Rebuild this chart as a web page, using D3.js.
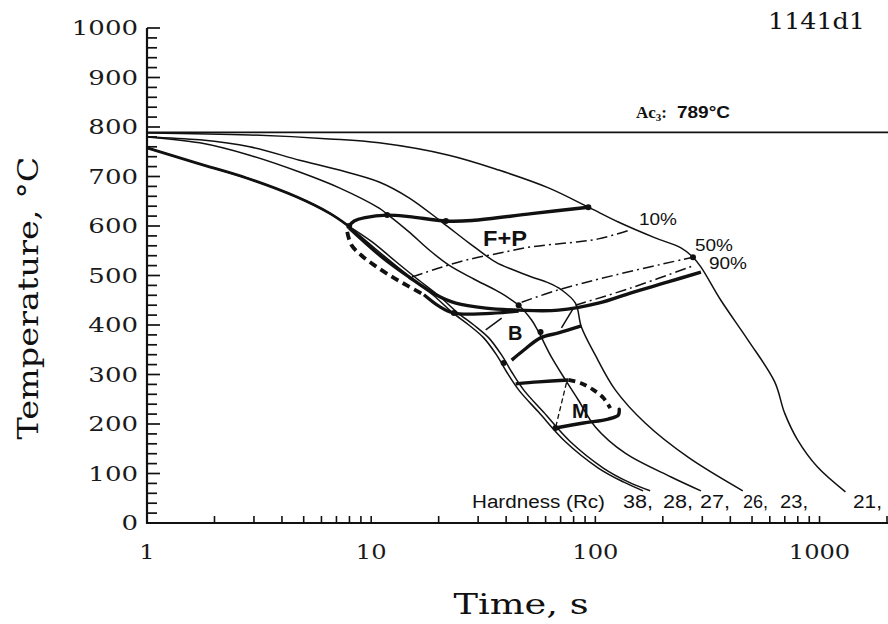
<!DOCTYPE html>
<html><head><meta charset="utf-8">
<script src="https://cdn.jsdelivr.net/npm/d3@7"></script>
<style>body{margin:0;background:#fff}</style>
</head><body><svg id="c" width="888" height="624"></svg>
<script>
// ---------- data (time s, temperature °C) ----------
const yTickValues = [0,100,200,300,400,500,600,700,800,900,1000];
const xLabelValues = [1,10,100,1000];
const acTemp = 789;
const hardnessLabels = ["38,","28,","27,","26,","23,","21,"];
const percentLabels = ["10%","50%","90%"];

const curve38 = [[1,758],[1.67,727],[2.78,697],[4.64,659],[6.51,626],[7.82,602],[9.6,568],[12.02,531],[15.06,495],[19.05,459],[22.91,426],[27.27,400],[31.78,374],[36.31,339],[40.22,305],[45.48,269],[55.81,224],[73.56,164],[103.1,111],[133.2,83],[163.4,65]];
const curve28 = [[1,758],[1.67,727],[2.78,697],[4.64,659],[6.51,626],[7.82,602],[10.1,568],[12.66,531],[15.85,495],[20.05,459],[24.1,426],[28.69,400],[33.46,374],[38.21,339],[42.34,305],[47.86,269],[58.7,224],[77.4,164],[108.5,111],[140.2,83],[175.5,65]];
const curve27 = [[1,780],[1.72,768],[2.87,743],[4.79,709],[7.21,677],[10.85,636],[11.78,624],[14.75,588],[18.1,552],[22.22,521],[28.69,493],[37.06,467],[45.48,440],[51.95,410],[55.81,386],[63.73,335],[73.56,289],[84.06,248],[100,194],[135.9,141],[217.7,93],[295.9,65]];
const curve26 = [[1,780],[1.72,774],[2.87,760],[4.79,733],[7.21,713],[10.85,689],[14.75,657],[20.68,608],[27.27,566],[35.94,527],[43.21,511],[51.95,497],[61.82,485],[70.61,471],[81.51,444],[86.66,396],[100,339],[122.7,269],[166.8,202],[259.1,133],[454.8,65]];
const curve21 = [[1,788],[2.87,784],[6.51,776],[10.85,768],[22.2,743],[37.1,713],[61.8,677],[93.1,638],[126.6,608],[184.8,576],[241,556],[272.6,537],[296,517],[363,450],[479,370],[631,285],[699,222],[798,168],[980,113],[1305,63]];

const ferriteStart = [[7.9,598],[8.4,610],[9.4,617],[11.78,622],[14.75,619],[21.54,610],[28.11,611],[51.95,625],[93.09,638]];
const bainiteStart = [[7.98,596],[11.19,537],[14.75,497],[19.45,461],[23.86,444],[32.44,434],[45.48,430],[68.48,430],[103.1,444],[144.5,465],[211.1,487],[295.9,507]];
const bainiteStartLow = [[17.2,461],[20.05,438],[23.38,424],[32.44,423],[45.48,428]];
const noseDashed = [[7.82,588],[8.15,562],[9.03,541],[10.31,521],[12.02,501],[14.31,481],[17.2,461]];
const pct10 = [[15.21,497],[20.05,515],[26.44,531],[37.06,545],[51.95,558],[75.86,566],[103.1,574],[143,592]];
const pct50 = [[46.9,446],[68.48,471],[122.7,501],[272.6,537]];
const pct90 = [[81.51,440],[144.5,475],[278.3,521]];
const bainiteFinish = [[42.34,329],[47.86,349],[56.96,374],[68.48,384],[86.66,398]];
const bTick1 = [[70.61,394],[79.86,434]];
const bTick2 = [[32.44,390],[38.21,414]];
const msTop = [[44.1,281],[55.81,285],[75.86,289]];
const msDashed = [[75.86,289],[85.77,283],[97.97,269],[108.5,253],[116.6,232]];
const mfBottom = [[66.41,192],[88.46,202],[114.2,210],[126.6,218],[127.8,230]];
const mThinDashed = [[74.3,283],[66.41,192]];
const dots = [[7.98,600],[11.78,622],[21.54,610],[93.09,638],[272.6,537],[23.38,424],[39.0,323],[56.96,386],[45.48,440],[66.41,192]];

// ---------- drawing ----------
const svg = d3.select("#c");
const x = d3.scaleLog().domain([1,2000]).range([147,887]);
const y = d3.scaleLinear().domain([0,1000]).range([523,28]);
const serif = "DejaVu Serif, serif";
const sans = "Liberation Sans, Arial, sans-serif";
const ink = "#111";

// axis lines
svg.append("line").attr("x1",147).attr("x2",147).attr("y1",y(1000)).attr("y2",y(0)+1)
  .attr("stroke",ink).attr("stroke-width",2.2);
svg.append("line").attr("x1",146).attr("x2",888).attr("y1",y(0)).attr("y2",y(0))
  .attr("stroke",ink).attr("stroke-width",2.2);

// y ticks (inside, to the right)
const minorY = d3.range(0,1001,20);
svg.append("g").selectAll("line").data(minorY).join("line")
  .attr("x1",147).attr("x2",d=> d%100===0 ? 160 : 157)
  .attr("y1",d=>y(d)).attr("y2",d=>y(d)).attr("stroke",ink).attr("stroke-width",1.7);
svg.append("g").selectAll("text").data(yTickValues).join("text")
  .attr("transform",d=>`translate(138,${y(d)+7}) scale(1.24,1)`)
  .attr("text-anchor","end").attr("font-family",serif).attr("font-size",21).attr("fill","#1a1a1a")
  .text(d3.format("d"));

// x ticks (inside, upwards)
const minorX = [];
[1,10,100,1000].forEach(d=>{for(let k=1;k<10;k++){ if(d*k<=2000) minorX.push(d*k);} });
svg.append("g").selectAll("line").data(minorX.filter(d=>d>1)).join("line")
  .attr("x1",d=>x(d)).attr("x2",d=>x(d)).attr("y1",y(0)).attr("y2",y(0)-7)
  .attr("stroke",ink).attr("stroke-width",1.6);
svg.append("g").selectAll("text").data(xLabelValues).join("text")
  .attr("transform",d=>`translate(${x(d)},559) scale(1.15,1)`)
  .attr("text-anchor","middle").attr("font-family",serif).attr("font-size",21).attr("fill","#1a1a1a")
  .text(d3.format("d"));

// Ac3 line
svg.append("line").attr("x1",147).attr("x2",888).attr("y1",y(acTemp)).attr("y2",y(acTemp))
  .attr("stroke",ink).attr("stroke-width",1.7);

const line = d3.line().x(d=>x(d[0])).y(d=>y(d[1])).curve(d3.curveCatmullRom.alpha(0.5));
function draw(data, w, dash){
  const p = svg.append("path").attr("d",line(data)).attr("fill","none")
    .attr("stroke",ink).attr("stroke-width",w).attr("stroke-linejoin","round");
  if(dash) p.attr("stroke-dasharray",dash);
  return p;
}
// cooling curves
[curve38, curve28, curve27, curve26, curve21].forEach(c=>draw(c,1.5));
draw(curve38.filter(d=>d[1]>=600), 2.8);

// transformation lines
draw(ferriteStart, 3.4);
draw(bainiteStart, 3.4);
draw(bainiteStartLow, 3.2);
draw(noseDashed, 3.8, "8,5");
draw(pct10, 1.5, "11,4,2,4");
draw(pct50, 1.5, "11,4,2,4");
draw(pct90, 1.5, "11,4,2,4");
draw(bainiteFinish, 3.4);
draw(bTick1, 1.5);
draw(bTick2, 1.5);
draw(msTop, 3.4);
draw(msDashed, 3.8, "7,5");
draw(mfBottom, 3.4).attr("stroke-linecap","round");
draw(mThinDashed, 1.3, "5,3");

svg.selectAll(".dot").data(dots).join("circle").attr("class","dot")
  .attr("cx",d=>x(d[0])).attr("cy",d=>y(d[1])).attr("r",3).attr("fill",ink);

// texts
function txt(s, px, py, size, fam, opts={}){
  const t = svg.append("text").attr("x",px).attr("y",py).attr("font-size",size)
    .attr("font-family",fam).attr("fill",ink).text(s);
  if(opts.weight) t.attr("font-weight",opts.weight);
  if(opts.len) t.attr("textLength",opts.len).attr("lengthAdjust","spacingAndGlyphs");
  if(opts.anchor) t.attr("text-anchor",opts.anchor);
  return t;
}
txt("1141d1", 768, 29, 23, serif, {len:97});
txt("F+P", 483, 246, 22, sans, {weight:"bold", len:44});
txt("B", 508, 340, 20, sans, {weight:"bold"});
txt("M", 572, 418, 20, sans, {weight:"bold"});
const pctPos = [[639,225],[695,251],[709,269]];
percentLabels.forEach((s,i)=>txt(s, pctPos[i][0], pctPos[i][1], 17, sans, {len:38}));
txt("Hardness (Rc)", 472, 508, 18, sans, {len:133});
const hardX = [623,663,700,743,780,853];
const hardW = [30,30,30,25,28,29];
hardnessLabels.forEach((s,i)=>txt(s, hardX[i], 508, 18, sans, {len:hardW[i]}));

// Ac3 label
const ac = svg.append("text").attr("x",636).attr("y",118).attr("fill",ink);
ac.append("tspan").attr("font-family","Liberation Serif, serif").attr("font-weight","bold").attr("font-size",17).text("Ac");
ac.append("tspan").attr("font-family","Liberation Serif, serif").attr("font-weight","bold").attr("font-size",11).attr("dy",3).text("3");
ac.append("tspan").attr("font-family","Liberation Serif, serif").attr("font-weight","bold").attr("font-size",17).attr("dy",-3).text(":");
ac.append("tspan").attr("font-family",sans).attr("font-weight","bold").attr("font-size",16).attr("dx",10)
  .attr("textLength",53).attr("lengthAdjust","spacingAndGlyphs").text("789°C");

// axis titles
txt("Time,  s", 521, 614, 27, serif, {len:135, anchor:"middle"});
svg.append("text").attr("transform","translate(38,298) rotate(-90)")
  .attr("text-anchor","middle").attr("font-family",serif).attr("font-size",27).attr("fill",ink)
  .attr("textLength",283).attr("lengthAdjust","spacingAndGlyphs").text("Temperature,  °C");
</script></body></html>
